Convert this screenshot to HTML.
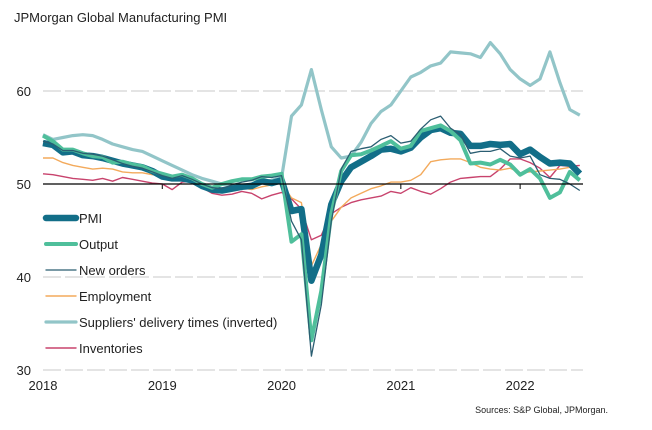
<!DOCTYPE html>
<html><head><meta charset="utf-8"><style>
body{margin:0;background:#fff;}
svg{display:block;font-family:"Liberation Sans",sans-serif;}
</style></head><body>
<svg id="chart" width="652" height="430">
<text x="14" y="22" font-size="13" fill="#222">JPMorgan Global Manufacturing PMI</text>
<g id="grid"></g><g id="series"></g><g id="legend"></g>
<text x="608" y="413" font-size="9" fill="#222" text-anchor="end">Sources: S&amp;P Global, JPMorgan.</text>
</svg>
<script>
const yearLabels=["2018","2019","2020","2021","2022"];
const yTicks=[30,40,50,60];
const pmi=[54.4,54.2,53.4,53.5,53.1,53.0,52.8,52.5,52.2,52.0,51.8,51.4,50.8,50.6,50.6,50.4,49.8,49.4,49.3,49.5,49.7,49.8,50.3,50.1,50.4,47.1,47.3,39.6,42.4,47.8,50.3,51.8,52.4,53.0,53.7,53.8,53.5,53.9,55.0,55.8,56.0,55.5,55.4,54.1,54.1,54.3,54.2,54.3,53.2,53.7,52.9,52.2,52.3,52.2,51.1];
const output=[55.2,54.6,53.7,53.7,53.3,53.0,52.9,52.3,52.4,52.1,51.9,51.4,51.1,50.8,51.0,50.6,50.0,49.6,50.0,50.3,50.5,50.5,50.8,50.9,51.1,43.8,44.6,33.2,38.5,46.8,51.4,53.1,53.2,53.6,54.1,54.6,53.8,54.1,55.7,56.0,56.3,55.7,54.7,52.2,52.3,52.1,52.6,52.1,51.0,51.6,50.6,48.5,49.1,51.3,50.4];
const newOrders=[54.6,54.3,53.6,53.6,53.3,53.2,53.0,52.6,52.2,51.9,51.7,51.3,50.9,50.6,50.9,50.5,50.0,49.6,49.5,49.9,50.2,50.4,50.8,50.7,50.9,46.0,44.0,31.5,37.0,46.0,51.6,53.5,53.8,54.0,54.8,55.2,54.4,54.6,55.9,56.9,57.3,56.0,55.3,53.3,53.5,53.5,53.8,53.0,52.8,53.0,51.0,50.6,50.5,50.0,49.3];
const employment=[52.8,52.8,52.3,52.0,51.8,51.6,51.7,51.6,51.3,51.2,51.2,51.0,50.9,50.9,50.7,50.3,49.9,49.4,49.5,49.5,49.6,49.4,49.7,49.9,50.1,48.5,48.0,41.2,43.5,46.0,47.5,48.5,49.0,49.5,49.8,50.2,50.2,50.4,51.0,52.4,52.6,52.7,52.7,52.3,51.8,51.6,51.5,51.7,51.2,51.3,51.4,51.5,51.6,51.8,51.2];
const delivery=[55.3,54.8,55.0,55.2,55.3,55.2,54.8,54.3,54.0,53.7,53.5,53.0,52.5,52.0,51.5,51.0,50.6,50.3,50.0,49.8,49.8,50.0,50.2,50.4,50.7,57.3,58.5,62.3,58.0,54.0,52.8,53.0,54.5,56.5,57.8,58.5,60.0,61.5,62.0,62.7,63.0,64.2,64.1,64.0,63.6,65.2,64.0,62.3,61.3,60.6,61.3,64.2,60.9,58.0,57.4];
const inventories=[51.1,51.0,50.8,50.6,50.5,50.4,50.6,50.3,50.7,50.5,50.3,50.1,50.0,49.4,50.2,50.3,49.6,49.0,48.8,48.9,49.2,49.0,48.4,48.8,49.1,48.4,47.3,44.0,44.5,46.8,47.5,48.0,48.3,48.5,48.7,49.2,49.0,49.6,49.2,48.9,49.5,50.2,50.6,50.7,50.8,50.8,51.6,52.7,52.7,52.3,51.7,50.7,52.0,51.9,52.0];

const NS="http://www.w3.org/2000/svg";
const X0=43,DX=9.94,XEND=583;
const x=i=>X0+i*DX;
const y=v=>184-(v-50)*9.3;
function mk(tag,parent){const e=document.createElementNS(NS,tag);parent.appendChild(e);return e;}
const grid=document.getElementById('grid');
yTicks.forEach(t=>{
  if(t!==50){const l=mk('line',grid);
  
  
  l.setAttribute('x1',X0);l.setAttribute('x2',XEND);l.setAttribute('y1',y(t));l.setAttribute('y2',y(t));
  l.setAttribute('stroke','#c8c8c8');l.setAttribute('stroke-dasharray','18 4');l.setAttribute('stroke-width','1');}
  const tx=mk('text',grid);
  
  
  tx.setAttribute('x',31);tx.setAttribute('y',y(t)+5);tx.setAttribute('text-anchor','end');tx.setAttribute('font-size','13');tx.setAttribute('fill','#222');tx.textContent=t;
});
yearLabels.forEach((lab,k)=>{
  const xx=x(k*12);
  const tx=mk('text',grid);
  
  
  tx.setAttribute('x',xx);tx.setAttribute('y',390);tx.setAttribute('text-anchor','middle');tx.setAttribute('font-size','13');tx.setAttribute('fill','#222');tx.textContent=lab;
  if(k>0){const tk=mk('line',grid);
  
  
  tk.setAttribute('x1',xx);tk.setAttribute('x2',xx);tk.setAttribute('y1',184);tk.setAttribute('y2',189);tk.setAttribute('stroke','#000');}
});
const series=[
 {d:delivery,c:'#92c5c8',w:3.2,n:'Suppliers\' delivery times (inverted)',id:'series-delivery-times'},
 {d:inventories,c:'#c8436d',w:1.4,n:'Inventories',id:'series-inventories'},
 {d:employment,c:'#f3aa5c',w:1.4,n:'Employment',id:'series-employment'},
 {d:pmi,c:'#126e88',w:6.5,n:'PMI',id:'series-pmi'},
 {d:output,c:'#4fbf9b',w:4,n:'Output',id:'series-output'},
 {d:newOrders,c:'#2b5e72',w:1.3,n:'New orders',id:'series-new-orders'}
];
const sg=document.getElementById('series');
series.forEach(s=>{
  const p=mk('polyline',sg);
  
  
  p.setAttribute('points',s.d.map((v,i)=>x(i).toFixed(1)+','+y(v).toFixed(1)).join(' '));
  p.setAttribute('fill','none');p.setAttribute('stroke',s.c);p.setAttribute('stroke-width',s.w);p.setAttribute('stroke-linejoin','round');
});
const zl=mk('line',sg);


zl.setAttribute('x1',X0);zl.setAttribute('x2',XEND);zl.setAttribute('y1',184);zl.setAttribute('y2',184);zl.setAttribute('stroke','#000');zl.setAttribute('stroke-width','1.2');
const lg=document.getElementById('legend');
const order=['series-pmi','series-output','series-new-orders','series-employment','series-delivery-times','series-inventories'];
order.forEach((id,k)=>{
  const s=series.find(q=>q.id===id);
  const yy=218+k*26;
  const l=mk('line',lg);
  
  
  l.setAttribute('x1',46);l.setAttribute('x2',76);l.setAttribute('y1',yy);l.setAttribute('y2',yy);l.setAttribute('stroke',s.c);l.setAttribute('stroke-width',s.w);l.setAttribute('stroke-linecap','round');
  const t=mk('text',lg);
  
  
  t.setAttribute('x',79);t.setAttribute('y',yy+5);t.setAttribute('font-size','13');t.setAttribute('fill','#222');t.textContent=s.n;
});
</script>
</body></html>
